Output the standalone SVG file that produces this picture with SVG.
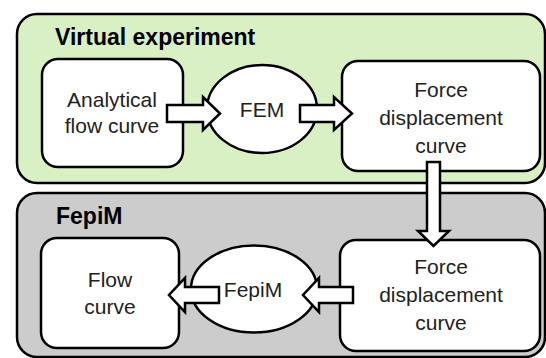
<svg xmlns="http://www.w3.org/2000/svg" width="546" height="358" viewBox="0 0 546 358">
<style>
.panel{stroke:#000;stroke-width:2.5}
.node{fill:#fff;stroke:#000;stroke-width:2.5}
.arrow{fill:#fff;stroke:#000;stroke-width:2.5;stroke-linejoin:miter}
.title{font-family:"Liberation Sans",Arial,sans-serif;font-weight:bold;font-size:23px;fill:#000}
.lbl{font-family:"Liberation Sans",Arial,sans-serif;font-size:21px;fill:#222;text-anchor:middle}
</style>
<rect width="546" height="358" fill="#fff"/>
<g id="virtual-experiment">
<rect class="panel" x="17" y="14" width="528" height="169" rx="20" fill="#d9f0c4"/>
<text class="title" x="55" y="45">Virtual experiment</text>
</g>
<g id="fepim-panel">
<rect class="panel" x="17" y="193" width="528" height="164" rx="20" fill="#cccccc"/>
<text class="title" x="56" y="224">FepiM</text>
</g>
<g id="analytical-flow-curve">
<rect class="node" x="42" y="59" width="141" height="108" rx="16"/>
<text class="lbl" x="112" y="107">Analytical</text>
<text class="lbl" x="112" y="133">flow curve</text>
</g>
<g id="fem">
<ellipse class="node" cx="262" cy="109" rx="55" ry="44"/>
<text class="lbl" x="262" y="117">FEM</text>
</g>
<g id="force-displacement-1">
<rect class="node" x="342" y="61" width="198" height="110" rx="16"/>
<text class="lbl" x="441" y="97">Force</text>
<text class="lbl" x="441" y="125">displacement</text>
<text class="lbl" x="441" y="153">curve</text>
</g>
<g id="flow-curve">
<rect class="node" x="41" y="238" width="138" height="110" rx="16"/>
<text class="lbl" x="110" y="287">Flow</text>
<text class="lbl" x="110" y="314">curve</text>
</g>
<g id="fepim">
<ellipse class="node" cx="254" cy="289" rx="63" ry="43.5"/>
<text class="lbl" x="253" y="297">FepiM</text>
</g>
<g id="force-displacement-2">
<rect class="node" x="340" y="240" width="200" height="111" rx="16"/>
<text class="lbl" x="441" y="274">Force</text>
<text class="lbl" x="441" y="302">displacement</text>
<text class="lbl" x="441" y="330">curve</text>
</g>
<g id="connectors">
<polygon class="arrow" points="167,105 203,105 203,97 220,113.5 203,130 203,122 167,122"/>
<polygon class="arrow" points="300,105 334,105 334,97 352,113.5 334,130 334,122 300,122"/>
<polygon class="arrow" points="427,162 440,162 440,231 449,231 433.5,246 418,231 427,231"/>
<polygon class="arrow" points="353,287 319,287 319,278 303,295 319,312 319,303 353,303"/>
<polygon class="arrow" points="219,287 185,287 185,278 169,295 185,312 185,303 219,303"/>
</g>
</svg>
